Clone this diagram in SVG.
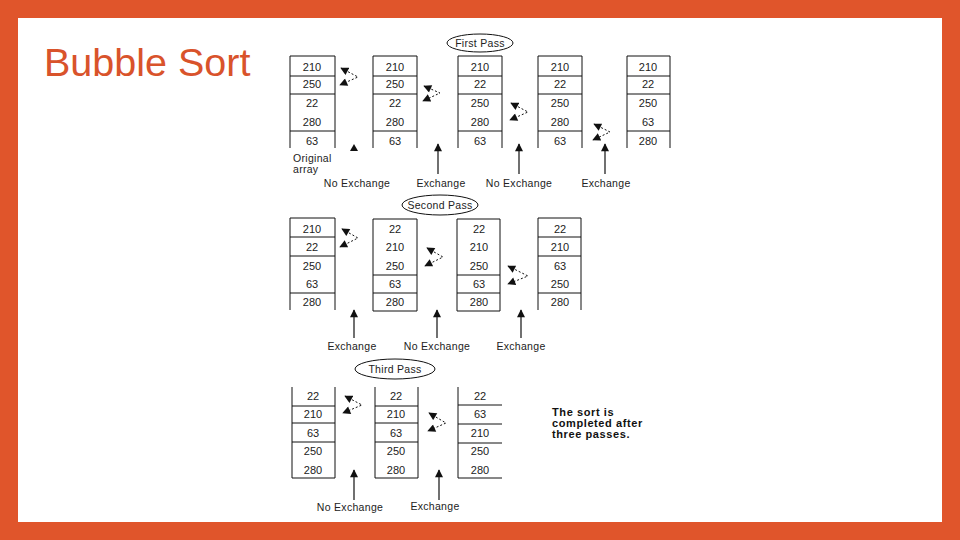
<svg xmlns="http://www.w3.org/2000/svg" width="960" height="540" viewBox="0 0 960 540">
<style>
.n{font-family:"Liberation Sans",Arial,sans-serif;font-size:11px;fill:#222;text-anchor:middle}
.lb{font-family:"Liberation Sans",Arial,sans-serif;font-size:10.5px;fill:#222;text-anchor:middle;letter-spacing:0.3px}
.ln{stroke:#111;stroke-width:1;fill:none}
.sw{stroke:#111;stroke-width:1;fill:none;stroke-dasharray:2,2;marker-start:url(#ah);marker-end:url(#ah)}
.up{stroke:#111;stroke-width:1.2;fill:none;marker-end:url(#ah)}
.el{stroke:#111;stroke-width:1;fill:#fff}
.bd{font-family:"Liberation Sans",Arial,sans-serif;font-size:11px;font-weight:bold;fill:#111;letter-spacing:0.6px}
</style>
<defs>
<marker id="ah" viewBox="0 0 10 10" refX="9" refY="5" markerWidth="9" markerHeight="8" markerUnits="userSpaceOnUse" orient="auto-start-reverse">
<path d="M0,0 L10,5 L0,10 z" fill="#111"/>
</marker>
</defs>
<rect x="0" y="0" width="960" height="540" fill="#E0552B"/>
<rect x="18" y="18" width="924" height="504" fill="#fff"/>
<text x="44" y="76" font-family="'Liberation Sans',Arial,sans-serif" font-size="39.5" fill="#D9532B">Bubble Sort</text>

<!-- First pass -->
<g id="label-first"><ellipse class="el" cx="480" cy="43" rx="33" ry="9"/><text class="lb" x="480" y="47">First Pass</text></g>
<g id="p1c1">
<path class="ln" d="M290,148V56H335V148M290,76H335M290,94H335M290,131H335"/>
<text class="n" x="312" y="71">210</text><text class="n" x="312" y="88">250</text><text class="n" x="312" y="107">22</text><text class="n" x="312" y="126">280</text><text class="n" x="312" y="145">63</text>
</g>
<g id="p1c2">
<path class="ln" d="M373,148V56H417V148M373,76H417M373,94H417M373,131H417"/>
<text class="n" x="395" y="71">210</text><text class="n" x="395" y="88">250</text><text class="n" x="395" y="107">22</text><text class="n" x="395" y="126">280</text><text class="n" x="395" y="145">63</text>
</g>
<g id="p1c3">
<path class="ln" d="M458,148V56H502V148M458,76H502M458,94H502M458,131H502"/>
<text class="n" x="480" y="71">210</text><text class="n" x="480" y="88">22</text><text class="n" x="480" y="107">250</text><text class="n" x="480" y="126">280</text><text class="n" x="480" y="145">63</text>
</g>
<g id="p1c4">
<path class="ln" d="M538,148V56H582V148M538,76H582M538,94H582M538,131H582"/>
<text class="n" x="560" y="71">210</text><text class="n" x="560" y="88">22</text><text class="n" x="560" y="107">250</text><text class="n" x="560" y="126">280</text><text class="n" x="560" y="145">63</text>
</g>
<g id="p1c5">
<path class="ln" d="M627,148V56H670V148M627,76H670M627,94H670M627,131H670"/>
<text class="n" x="648" y="71">210</text><text class="n" x="648" y="88">22</text><text class="n" x="648" y="107">250</text><text class="n" x="648" y="126">63</text><text class="n" x="648" y="145">280</text>
</g>
<g id="orig-label"><text class="lb" x="293" y="162" style="text-anchor:start">Original</text><text class="lb" x="293" y="173" style="text-anchor:start">array</text></g>
<g id="p1-labels">
<text class="lb" x="357" y="187">No Exchange</text>
<text class="lb" x="441" y="187">Exchange</text>
<text class="lb" x="519" y="187">No Exchange</text>
<text class="lb" x="606" y="187">Exchange</text>
</g>

<!-- Second pass -->
<g id="label-second"><ellipse class="el" cx="440" cy="205" rx="38" ry="10"/><text class="lb" x="440" y="209">Second Pass</text></g>
<g id="p2c1">
<path class="ln" d="M290,310V218H335V310M290,237H335M290,256H335M290,293H335"/>
<text class="n" x="312" y="233">210</text><text class="n" x="312" y="251">22</text><text class="n" x="312" y="270">250</text><text class="n" x="312" y="288">63</text><text class="n" x="312" y="306">280</text>
</g>
<g id="p2c2">
<path class="ln" d="M373,219H417V311H373ZM373,275H417M373,293H417"/>
<text class="n" x="395" y="233">22</text><text class="n" x="395" y="251">210</text><text class="n" x="395" y="270">250</text><text class="n" x="395" y="288">63</text><text class="n" x="395" y="306">280</text>
</g>
<g id="p2c3">
<path class="ln" d="M457,219H500V311H457ZM457,275H500M457,293H500"/>
<text class="n" x="479" y="233">22</text><text class="n" x="479" y="251">210</text><text class="n" x="479" y="270">250</text><text class="n" x="479" y="288">63</text><text class="n" x="479" y="306">280</text>
</g>
<g id="p2c4">
<path class="ln" d="M538,310V218H581V310M538,237H581M538,256H581M538,293H581"/>
<text class="n" x="560" y="233">22</text><text class="n" x="560" y="251">210</text><text class="n" x="560" y="270">63</text><text class="n" x="560" y="288">250</text><text class="n" x="560" y="306">280</text>
</g>
<g id="p2-labels">
<text class="lb" x="352" y="350">Exchange</text>
<text class="lb" x="437" y="350">No Exchange</text>
<text class="lb" x="521" y="350">Exchange</text>
</g>

<!-- Third pass -->
<g id="label-third"><ellipse class="el" cx="395" cy="369" rx="40" ry="10"/><text class="lb" x="395" y="373">Third Pass</text></g>
<g id="p3c1">
<path class="ln" d="M292,387V478H335V387M292,406H335M292,423H335M292,442H335"/>
<text class="n" x="313" y="400">22</text><text class="n" x="313" y="418">210</text><text class="n" x="313" y="437">63</text><text class="n" x="313" y="455">250</text><text class="n" x="313" y="474">280</text>
</g>
<g id="p3c2">
<path class="ln" d="M375,387V478H418V387M375,406H418M375,423H418M375,442H418"/>
<text class="n" x="396" y="400">22</text><text class="n" x="396" y="418">210</text><text class="n" x="396" y="437">63</text><text class="n" x="396" y="455">250</text><text class="n" x="396" y="474">280</text>
</g>
<g id="p3c3">
<path class="ln" d="M458,387V478H502M458,405H502M458,424H502M458,443H502"/>
<text class="n" x="480" y="400">22</text><text class="n" x="480" y="418">63</text><text class="n" x="480" y="437">210</text><text class="n" x="480" y="455">250</text><text class="n" x="480" y="474">280</text>
</g>
<g id="p3-labels">
<text class="lb" x="350" y="511">No Exchange</text>
<text class="lb" x="435" y="510">Exchange</text>
</g>
<g id="note">
<text class="bd" x="552" y="416">The sort is</text>
<text class="bd" x="552" y="427">completed after</text>
<text class="bd" x="552" y="438">three passes.</text>
</g>

<g id="connectors">
<polyline class="sw" points="341,68 358,77 340,85"/>
<polyline class="sw" points="424,86 440,93 423,101"/>
<polyline class="sw" points="511,103 528,112 510,120"/>
<polyline class="sw" points="594,124 610,132 593,140"/>
<polyline class="sw" points="342,229 358,238 340,247"/>
<polyline class="sw" points="427,248 443,257 425,266"/>
<polyline class="sw" points="508,266 528,276 508,284"/>
<polyline class="sw" points="345,396 362,405 343,413"/>
<polyline class="sw" points="429,413 446,423 428,431"/>
<path d="M350,151 L354,144 L358,151 Z" fill="#111"/>
<line class="up" x1="438" y1="174" x2="438" y2="144"/>
<line class="up" x1="519" y1="174" x2="519" y2="144"/>
<line class="up" x1="605" y1="174" x2="605" y2="144"/>
<line class="up" x1="354" y1="338" x2="354" y2="310"/>
<line class="up" x1="437" y1="338" x2="437" y2="310"/>
<line class="up" x1="521" y1="338" x2="521" y2="310"/>
<line class="up" x1="354" y1="500" x2="354" y2="470"/>
<line class="up" x1="439" y1="500" x2="439" y2="470"/>
</g>
</svg>
